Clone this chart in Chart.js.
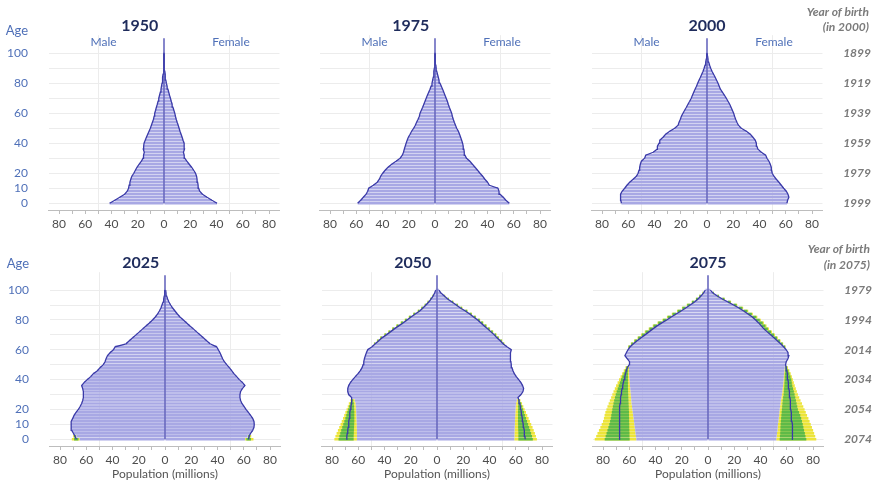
<!DOCTYPE html>
<html>
<head>
<meta charset="utf-8">
<script src="https://cdn.jsdelivr.net/npm/chart.js@4.4.1/dist/chart.umd.min.js"></script>
<style>
  html, body { margin: 0; padding: 0; background: #fff; }
  #page { position: relative; width: 879px; height: 484px; overflow: hidden; background: #fff; }
  .panel { position: absolute; width: 328px; }
  .row1 { top: 0; height: 240px; }
  .row2 { top: 237px; height: 247px; }
</style>
</head>
<body>
<div id="page">
  <div class="panel row1" style="left:0px"><canvas id="p1950"></canvas></div>
  <div class="panel row1" style="left:271px"><canvas id="p1975"></canvas></div>
  <div class="panel row1" style="left:543px"><canvas id="p2000"></canvas></div>
  <div class="panel row2" style="left:1px"><canvas id="p2025"></canvas></div>
  <div class="panel row2" style="left:273px"><canvas id="p2050"></canvas></div>
  <div class="panel row2" style="left:544px"><canvas id="p2075"></canvas></div>
</div>
<script>
// Single-year-of-age groups shown (every second year), population in millions
const ages = [0,2,4,6,8,10,12,14,16,18,20,22,24,26,28,30,32,34,36,38,40,42,44,46,48,50,52,54,56,58,60,62,64,66,68,70,72,74,76,78,80,82,84,86,88,90,92,94,96,98,100];

const male1950   = [41.4,37.5,33.7,30.0,28.0,27.0,26.6,26.0,25.3,24.5,23.0,21.8,20.6,18.9,17.2,16.0,15.6,15.0,15.8,15.5,15.2,14.3,13.4,12.4,11.4,10.4,9.6,8.8,8.0,7.5,7.1,6.4,5.8,5.1,4.5,4.0,3.4,2.8,2.3,1.9,1.5,1.2,1.0,0.7,0.5,0.35,0.25,0.15,0.1,0.05,0.03];
const female1950 = [40.4,36.5,32.8,29.3,27.2,26.4,26.0,25.6,25.2,24.8,24.0,22.6,21.0,19.2,17.4,15.8,15.4,14.8,15.6,15.4,15.3,14.5,13.8,13.0,12.2,11.5,10.8,10.0,9.3,8.7,8.2,7.5,6.8,6.2,5.5,4.9,4.2,3.6,3.0,2.4,1.8,1.4,1.1,0.8,0.6,0.4,0.3,0.2,0.12,0.07,0.04];

const male1975   = [58.9,56.6,54.6,52.5,51.3,50.5,47.0,44.0,42.4,41.4,39.8,38.0,35.8,33.0,29.7,26.6,24.9,24.0,23.4,22.7,22.0,21.2,20.3,19.0,17.8,16.2,15.0,14.0,12.9,11.9,11.4,10.4,9.4,8.5,7.6,6.7,5.8,4.8,3.8,3.0,2.3,1.8,1.3,1.0,0.8,0.5,0.35,0.25,0.15,0.08,0.05];
const female1975 = [56.6,54.0,52.0,49.5,48.8,48.0,41.4,40.0,38.0,36.3,34.3,32.4,30.5,28.5,26.6,24.0,22.8,22.3,22.0,21.5,21.0,20.3,19.5,18.7,17.8,16.5,15.6,14.7,13.9,13.2,12.7,11.8,10.9,10.1,9.4,8.5,7.6,6.7,5.8,4.8,3.8,3.1,2.5,1.9,1.3,0.9,0.65,0.45,0.3,0.18,0.1];

const male2000   = [65.2,65.7,66.0,65.7,64.7,62.7,61.0,58.9,56.3,53.8,52.5,51.8,51.3,50.8,50.0,47.5,46.7,41.0,38.0,37.8,36.5,36.0,33.5,31.5,28.4,24.6,22.0,21.3,20.3,19.5,18.3,17.0,15.7,14.5,13.2,12.0,11.1,10.1,9.1,8.0,7.1,6.1,5.0,4.0,3.0,2.2,1.5,1.0,0.6,0.35,0.2];
const female2000 = [60.9,61.4,62.4,61.7,60.4,58.4,56.6,54.8,52.8,51.0,49.7,49.2,49.0,48.2,47.2,45.7,44.7,41.4,38.8,38.0,37.6,36.8,35.0,33.0,30.0,26.1,23.9,22.8,21.8,21.0,20.3,19.3,18.3,17.3,16.0,14.7,13.2,11.7,10.2,9.3,8.4,7.3,6.2,5.0,3.8,2.8,2.0,1.3,0.8,0.45,0.25];

// Projections: where an interval is shown, these are its lower 95% bound
const male2025   = [65.0,67.5,69.8,71.0,71.6,71.6,71.3,70.3,69.3,67.8,66.0,64.7,63.5,62.7,62.2,62.2,62.2,62.7,63.5,61.7,59.1,56.6,54.6,51.5,49.5,47.0,45.7,44.9,43.9,41.9,39.3,38.0,29.7,27.2,24.6,22.1,19.5,17.0,14.5,11.9,9.5,7.4,5.6,4.3,3.1,2.3,1.5,1.0,0.6,0.35,0.2];
const female2025 = [61.0,63.0,65.2,66.8,67.8,68.0,67.8,66.8,65.2,63.5,61.7,60.2,58.6,57.6,57.1,57.1,57.6,58.9,60.9,59.1,56.6,54.6,52.5,50.8,49.0,47.0,45.2,43.9,42.9,41.9,40.6,39.3,34.3,31.7,29.2,26.6,24.1,21.6,19.0,16.5,14.0,11.4,9.4,7.6,5.8,4.3,3.0,2.0,1.3,0.8,0.5];

const male2050   = [61.0,61.0,61.0,61.0,61.1,61.1,61.2,61.3,61.4,61.5,61.6,61.8,62.0,62.6,65.2,67.3,68.0,68.0,67.3,66.0,64.2,62.2,60.2,58.4,57.1,56.3,55.8,55.3,54.6,53.8,52.8,49.5,47.0,44.4,41.9,38.6,35.5,32.5,29.2,25.9,22.8,19.8,16.5,13.2,10.7,8.4,6.3,4.6,3.0,1.8,1.0];
const female2050 = [58.9,59.0,59.0,59.1,59.2,59.3,59.4,59.5,59.6,59.7,59.8,60.0,60.3,60.8,61.7,64.0,65.5,66.0,65.2,64.0,62.2,60.4,58.9,57.9,57.1,56.6,56.3,55.8,55.8,56.3,56.6,53.3,50.3,48.2,45.7,43.7,41.1,38.6,36.0,33.5,31.0,27.9,24.9,21.6,17.8,14.7,11.4,8.1,5.6,3.0,1.5];

const male2075   = [54.6,54.9,55.2,55.5,55.8,56.1,56.4,56.7,57.0,57.3,57.6,57.9,58.2,58.4,58.6,58.8,59.0,59.2,59.4,59.6,59.8,60.0,60.1,60.2,60.2,60.0,59.8,61.5,63.3,62.2,61.0,59.3,56.8,54.0,51.0,48.0,45.0,42.0,38.8,35.2,31.5,28.0,24.3,20.5,17.0,13.6,10.3,7.6,5.4,3.5,2.0];
const female2075 = [52.0,52.3,52.6,52.9,53.1,53.3,53.6,53.9,54.2,54.4,54.6,54.9,55.2,55.5,55.9,56.3,56.6,56.9,57.2,57.4,57.6,57.8,58.0,58.2,58.5,59.1,59.6,60.9,61.6,61.0,59.6,57.6,55.3,52.8,50.3,47.7,45.2,42.6,40.6,38.6,36.3,33.8,30.5,27.2,23.6,19.5,15.2,10.9,7.1,3.8,1.8];

// Prediction intervals for cohorts not yet born at the base date
const youngAges2025 = [0,2];
const male2025Lo80   = [66.0,67.9];
const male2025Median = [67.5,68.6];
const male2025Hi80   = [69.3,69.3];
const male2025Hi95   = [71.0,70.0];
const female2025Lo80   = [62.0,63.4];
const female2025Median = [63.6,64.1];
const female2025Hi80   = [65.5,64.9];
const female2025Hi95   = [67.4,65.7];

const youngAges2050 = [0,2,4,6,8,10,12,14,16,18,20,22,24,26];
const male2050Lo80   = [63.5,63.5,63.4,63.3,63.2,63.1,63.0,63.0,63.0,63.0,63.1,63.2,63.4,63.8];
const male2050Median = [69.0,68.7,68.4,68.0,67.7,67.4,67.1,66.8,66.6,66.3,66.0,65.6,65.2,64.9];
const male2050Hi80   = [75.0,74.4,73.7,73.0,72.2,71.4,70.6,69.8,69.1,68.4,67.7,67.0,66.2,65.5];
const male2050Hi95   = [78.2,77.4,76.5,75.5,74.5,73.5,72.6,71.6,70.7,69.8,68.9,68.0,67.2,66.0];
const female2050Lo80   = [62.0,62.0,62.0,61.9,61.8,61.8,61.7,61.7,61.7,61.7,61.7,61.7,61.8,61.9];
const female2050Median = [67.2,67.0,66.7,66.4,66.0,65.7,65.3,65.0,64.6,64.3,63.9,63.5,63.0,62.5];
const female2050Hi80   = [73.0,72.4,71.7,71.0,70.2,69.4,68.6,67.8,67.0,66.3,65.6,64.9,64.1,63.2];
const female2050Hi95   = [76.1,75.4,74.6,73.7,72.8,71.8,70.8,69.8,68.8,67.8,66.8,65.8,64.8,63.6];

const youngAges2075 = [0,2,4,6,8,10,12,14,16,18,20,22,24,26,28,30,32,34,36,38,40,42,44,46,48];
const male2075Lo80   = [59.7,59.8,59.8,59.9,60.0,60.0,60.1,60.1,60.2,60.2,60.3,60.4,60.5,60.6,60.7,60.8,60.9,61.0,61.0,61.0,61.0,61.0,61.0,60.9,60.7];
const male2075Median = [67.8,67.7,67.6,67.5,67.4,67.4,67.3,67.3,67.3,67.2,67.2,67.1,67.0,66.8,66.5,66.2,65.9,65.5,65.0,64.5,64.0,63.4,62.8,62.2,61.5];
const male2075Hi80   = [78.7,78.0,77.3,76.6,75.9,75.2,74.6,74.1,73.7,73.3,72.9,72.5,72.0,71.5,70.9,70.3,69.6,68.8,68.0,67.2,66.3,65.3,64.3,63.3,62.2];
const male2075Hi95   = [86.3,85.2,84.2,83.1,82.0,81.0,80.0,79.3,78.8,78.2,77.4,76.6,75.7,74.8,73.8,72.9,72.0,71.0,70.0,68.9,67.8,66.6,65.4,64.2,62.9];
const female2075Lo80   = [54.6,54.8,55.0,55.1,55.2,55.3,55.5,55.7,55.9,56.1,56.3,56.5,56.7,56.9,57.2,57.6,57.8,58.0,58.2,58.3,58.4,58.5,58.6,58.7,58.8];
const female2075Median = [64.7,64.6,64.5,64.4,64.2,64.0,63.9,63.7,63.5,63.3,63.0,62.9,62.8,62.6,62.4,62.2,61.9,61.6,61.4,61.1,60.9,60.6,60.3,60.0,59.6];
const female2075Hi80   = [74.9,74.3,73.8,73.2,72.7,72.2,71.6,71.0,70.3,69.4,68.5,68.0,67.5,67.0,66.5,66.0,65.4,64.8,64.2,63.8,63.5,62.8,62.0,61.2,60.3];
const female2075Hi95   = [82.5,81.7,80.9,80.1,79.2,78.3,77.4,76.5,75.5,74.5,73.6,72.6,71.6,70.5,69.5,68.5,67.7,66.9,66.1,65.4,64.7,63.9,63.0,62.0,60.9];

// Mortality uncertainty at older ages (upper bounds; lower bound is the main series)
const oldAges2050 = [64,66,68,70,72,74,76,78,80,82,84,86,88,90,92,94,96];
const male2050OldHi80   = [47.8,45.4,43.0,39.9,36.8,33.9,30.7,27.4,24.3,21.2,17.9,14.5,11.8,9.3,7.1,5.2,3.4];
const male2050OldHi95   = [48.1,45.8,43.4,40.3,37.2,34.3,31.1,27.8,24.7,21.6,18.2,14.8,12.1,9.5,7.3,5.3,3.5];
const female2050OldHi80 = [51.1,49.3,46.9,45.0,42.5,40.0,37.5,35.0,32.5,29.4,26.3,23.0,19.0,15.8,12.3,8.9,6.1];
const female2050OldHi95 = [51.4,49.7,47.3,45.4,42.9,40.5,37.9,35.4,32.9,29.8,26.7,23.3,19.4,16.1,12.6,9.1,6.3];

const oldAges2075 = [62,64,66,68,70,72,74,76,78,80,82,84,86,88,90,92,94,96,98];
const male2075OldHi80   = [60.5,58.4,55.9,53.2,50.4,47.6,44.6,41.5,37.9,34.2,30.7,27.0,23.1,19.5,15.8,12.2,9.1,6.5,4.1];
const male2075OldHi95   = [60.8,58.8,56.4,53.7,51.0,48.2,45.2,42.1,38.5,34.8,31.3,27.6,23.6,19.9,16.2,12.5,9.3,6.7,4.2];
const female2075OldHi80 = [58.8,56.9,54.8,52.6,50.3,48.0,45.6,43.7,41.7,39.4,36.8,33.4,30.0,26.2,21.8,17.2,12.5,8.2,4.4];
const female2075OldHi95 = [59.1,57.3,55.3,53.2,51.0,48.8,46.5,44.6,42.6,40.3,37.6,34.2,30.7,26.8,22.3,17.6,12.8,8.4,4.5];

// Axis ticks and labels
const popTicks = [-80,-70,-60,-50,-40,-30,-20,-10,0,10,20,30,40,50,60,70,80];
const ageGrid = [0,10,20,30,40,50,60,70,80,90,100];
const ageTickLabels = [0,10,20,40,60,80,100];
const birthTickAges = [0,20,40,60,80,100];
const birthYears2000 = ['1999','1979','1959','1939','1919','1899'];
const birthYears2075 = ['2074','2054','2034','2014','1994','1979'];
const stemAges = [0,110];

const COLORS = {
  fill: 'rgb(168,168,228)',
  edge: '#3a3aa8',
  stem: '#4646b0',
  band95: 'rgb(236,228,58)',
  band80: 'rgb(94,186,72)',
  axis: '#bdbdbd',
  grid: '#ececec',
  blue: '#4f70b8',
  title: '#1f2c5c',
  year: '#7b7b7b',
  tick: '#4d4d4d'
};

Chart.defaults.font.family = "Lato, 'Noto Sans', sans-serif";

// Free-standing labels placed in data coordinates (or against an axis edge)
const panelNotes = {
  id: 'panelNotes',
  afterDraw(chart, args, opts) {
    const { ctx, scales } = chart;
    (opts.items || []).forEach(n => {
      let x;
      if (n.anchor === 'ageLabels') x = scales.y.right - scales.y.options.ticks.padding;
      else if (n.anchor === 'rightEdge') x = chart.width - 2;
      else x = scales.x.getPixelForValue(n.x);
      ctx.save();
      ctx.font = n.font;
      ctx.fillStyle = n.color;
      ctx.textAlign = n.align || 'center';
      ctx.textBaseline = 'middle';
      ctx.fillText(n.text, x, scales.y.getPixelForValue(n.age));
      ctx.restore();
    });
  }
};
Chart.register(panelNotes);

function rangeBars(label, ageList, lo, hi, sign, color, order) {
  return {
    type: 'bar', label, order, grouped: false,
    backgroundColor: color, borderWidth: 0,
    categoryPercentage: 1, barPercentage: 0.88,
    data: ageList.map((a, i) => ({ y: a, x: [sign * lo[i], sign * hi[i]] }))
  };
}

function edgeLine(label, values, sign) {
  return {
    type: 'line', label, indexAxis: 'y', order: 1,
    borderColor: COLORS.edge, borderWidth: 1.3, pointRadius: 0, tension: 0, fill: false,
    data: ages.map((a, i) => ({ y: a, x: sign * values[i] }))
  };
}

function baseAt(series, ageList) {
  return ageList.map(a => series[ages.indexOf(a)]);
}

function buildPanel(id, spec) {
  const { year, male, female, young, old, showAges, birthYears, notes, axisTitle, xHeight } = spec;
  const datasets = [];
  const maleEdge = male.slice();
  const femaleEdge = female.slice();

  if (young) {
    const mBase = baseAt(male, young.ages);
    const fBase = baseAt(female, young.ages);
    datasets.push(rangeBars('Male 95%', young.ages, mBase, young.mHi95, -1, COLORS.band95, 4));
    datasets.push(rangeBars('Female 95%', young.ages, fBase, young.fHi95, 1, COLORS.band95, 4));
    datasets.push(rangeBars('Male 80%', young.ages, young.mLo80, young.mHi80, -1, COLORS.band80, 3));
    datasets.push(rangeBars('Female 80%', young.ages, young.fLo80, young.fHi80, 1, COLORS.band80, 3));
    young.ages.forEach((a, k) => {
      maleEdge[ages.indexOf(a)] = young.mMed[k];
      femaleEdge[ages.indexOf(a)] = young.fMed[k];
    });
  }
  if (old) {
    const mBase = baseAt(male, old.ages);
    const fBase = baseAt(female, old.ages);
    datasets.push(rangeBars('Male 95% (old)', old.ages, mBase, old.mHi95, -1, COLORS.band95, 4));
    datasets.push(rangeBars('Female 95% (old)', old.ages, fBase, old.fHi95, 1, COLORS.band95, 4));
    datasets.push(rangeBars('Male 80% (old)', old.ages, mBase, old.mHi80, -1, COLORS.band80, 3));
    datasets.push(rangeBars('Female 80% (old)', old.ages, fBase, old.fHi80, 1, COLORS.band80, 3));
  }

  const zeros = ages.map(() => 0);
  datasets.push(rangeBars('Male', ages, zeros, male, -1, COLORS.fill, 2));
  datasets.push(rangeBars('Female', ages, zeros, female, 1, COLORS.fill, 2));
  datasets.push(edgeLine('Male edge', maleEdge, -1));
  datasets.push(edgeLine('Female edge', femaleEdge, 1));
  datasets.push({
    type: 'line', label: 'Axis', indexAxis: 'y', order: 0,
    borderColor: COLORS.stem, borderWidth: 1.3, pointRadius: 0, fill: false,
    data: stemAges.map(a => ({ y: a, x: 0 }))
  });

  const scales = {
    x: {
      type: 'linear', min: -88, max: 88, offset: false,
      afterBuildTicks: s => { s.ticks = popTicks.map(v => ({ value: v })); },
      ticks: {
        autoSkip: false, maxRotation: 0, padding: 3, color: COLORS.tick, font: { size: 12 },
        callback: v => (v % 20 === 0 ? String(Math.abs(v)) : '')
      },
      grid: {
        drawOnChartArea: true, offset: false,
        color: c => (c.tick && Math.abs(c.tick.value) === 50 ? COLORS.grid : 'rgba(0,0,0,0)'),
        tickColor: COLORS.axis, tickLength: 4
      },
      border: { color: COLORS.axis },
      title: {
        display: !!axisTitle, text: 'Population (millions)', color: '#555',
        font: { size: 12 }, padding: { top: 0, bottom: 3 }
      },
      afterFit: s => { s.height = xHeight; }
    },
    y: {
      type: 'linear', min: -4.5, max: 112, offset: false,
      afterBuildTicks: s => { s.ticks = ageGrid.map(v => ({ value: v })); },
      ticks: {
        display: !!showAges, autoSkip: false, padding: 20.5, color: COLORS.blue, font: { size: 12 },
        callback: v => (ageTickLabels.includes(v) ? String(v) : '')
      },
      grid: { color: COLORS.grid, drawTicks: false, offset: false },
      border: { display: false },
      afterFit: s => { s.width = 48.5; }
    }
  };
  if (birthYears) {
    scales.yBirth = {
      type: 'linear', position: 'right', min: -4.5, max: 112, offset: false,
      afterBuildTicks: s => { s.ticks = birthTickAges.map(v => ({ value: v })); },
      ticks: {
        autoSkip: false, crossAlign: 'far', color: COLORS.year,
        font: { size: 12, style: 'italic', weight: 'bold' },
        callback: (v, i) => birthYears[i]
      },
      grid: { display: false, offset: false },
      border: { display: false },
      afterFit: s => { s.width = 48.5; }
    };
  }

  return new Chart(document.getElementById(id), {
    type: 'bar',
    data: { datasets },
    options: {
      indexAxis: 'y',
      responsive: true,
      maintainAspectRatio: false,
      animation: false,
      events: [],
      layout: { padding: { right: birthYears ? 0 : 48.5 } },
      plugins: {
        legend: { display: false },
        tooltip: { enabled: false },
        title: {
          display: true, text: year, color: COLORS.title,
          font: { size: 16, weight: 'bold' }, padding: { top: 16, bottom: 0 }
        },
        panelNotes: { items: notes || [] }
      },
      scales
    }
  });
}

const noteFont = "12px Lato, 'Noto Sans', sans-serif";
const ageFont = "13px Lato, 'Noto Sans', sans-serif";
const yearFont = "italic bold 12px Lato, 'Noto Sans', sans-serif";
const sexNotes = [
  { text: 'Male', x: -46, age: 107.7, font: noteFont, color: COLORS.blue },
  { text: 'Female', x: 51, age: 107.7, font: noteFont, color: COLORS.blue }
];

buildPanel('p1950', {
  year: '1950', male: male1950, female: female1950, showAges: true, xHeight: 30,
  notes: [{ text: 'Age', anchor: 'ageLabels', align: 'right', age: 115, font: ageFont, color: COLORS.blue }, ...sexNotes]
});
buildPanel('p1975', { year: '1975', male: male1975, female: female1975, xHeight: 30, notes: sexNotes });
buildPanel('p2000', {
  year: '2000', male: male2000, female: female2000, xHeight: 30, birthYears: birthYears2000,
  notes: [...sexNotes,
    { text: 'Year of birth', anchor: 'rightEdge', align: 'right', age: 127.3, font: yearFont, color: COLORS.year },
    { text: '(in 2000)', anchor: 'rightEdge', align: 'right', age: 117.5, font: yearFont, color: COLORS.year }]
});
buildPanel('p2025', {
  year: '2025', male: male2025, female: female2025, showAges: true, xHeight: 38, axisTitle: true,
  young: { ages: youngAges2025, mLo80: male2025Lo80, mMed: male2025Median, mHi80: male2025Hi80, mHi95: male2025Hi95,
           fLo80: female2025Lo80, fMed: female2025Median, fHi80: female2025Hi80, fHi95: female2025Hi95 },
  notes: [{ text: 'Age', anchor: 'ageLabels', align: 'right', age: 117.3, font: ageFont, color: COLORS.blue }]
});
buildPanel('p2050', {
  year: '2050', male: male2050, female: female2050, xHeight: 38, axisTitle: true,
  young: { ages: youngAges2050, mLo80: male2050Lo80, mMed: male2050Median, mHi80: male2050Hi80, mHi95: male2050Hi95,
           fLo80: female2050Lo80, fMed: female2050Median, fHi80: female2050Hi80, fHi95: female2050Hi95 },
  old: { ages: oldAges2050, mHi80: male2050OldHi80, mHi95: male2050OldHi95, fHi80: female2050OldHi80, fHi95: female2050OldHi95 }
});
buildPanel('p2075', {
  year: '2075', male: male2075, female: female2075, xHeight: 38, axisTitle: true, birthYears: birthYears2075,
  young: { ages: youngAges2075, mLo80: male2075Lo80, mMed: male2075Median, mHi80: male2075Hi80, mHi95: male2075Hi95,
           fLo80: female2075Lo80, fMed: female2075Median, fHi80: female2075Hi80, fHi95: female2075Hi95 },
  old: { ages: oldAges2075, mHi80: male2075OldHi80, mHi95: male2075OldHi95, fHi80: female2075OldHi80, fHi95: female2075OldHi95 },
  notes: [
    { text: 'Year of birth', anchor: 'rightEdge', align: 'right', age: 127.3, font: yearFont, color: COLORS.year },
    { text: '(in 2075)', anchor: 'rightEdge', align: 'right', age: 116.8, font: yearFont, color: COLORS.year }]
});
</script>
</body>
</html>
